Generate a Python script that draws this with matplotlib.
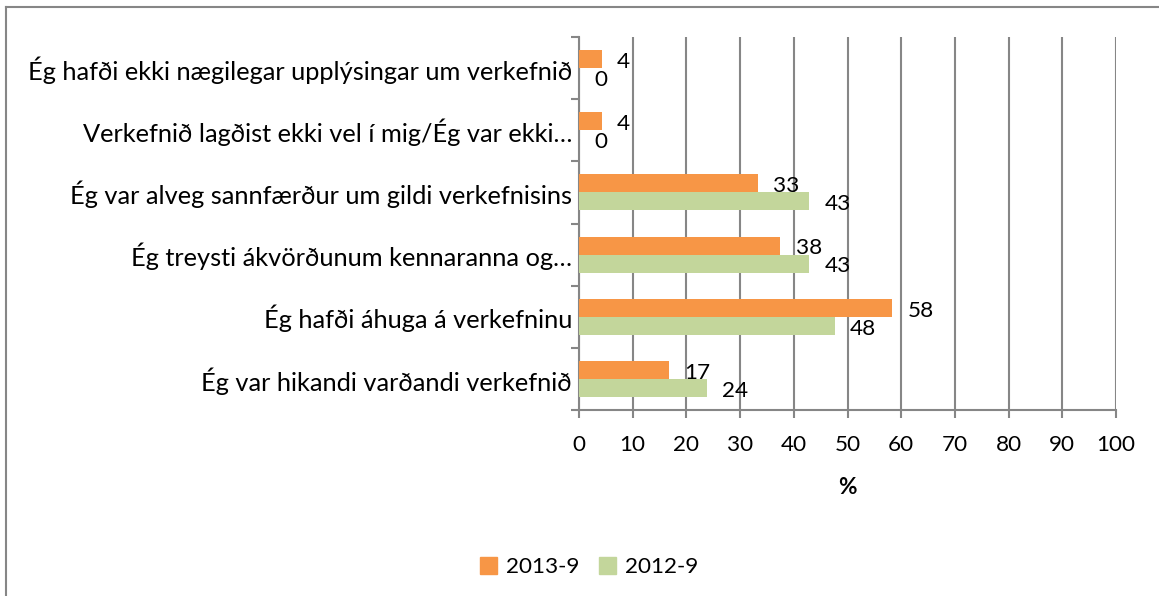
import matplotlib
matplotlib.use('Agg')
import matplotlib.pyplot as plt
from matplotlib.lines import Line2D
from matplotlib.patches import Patch
import numpy as np

plt.rcParams['font.family'] = ['Lato', 'DejaVu Sans']

categories = [
    "Ég hafði ekki nægilegar upplýsingar um verkefnið",
    "Verkefnið lagðist ekki vel í mig/Ég var ekki…",
    "Ég var alveg sannfærður um gildi verkefnisins",
    "Ég treysti ákvörðunum kennaranna og…",
    "Ég hafði áhuga á verkefninu",
    "Ég var hikandi varðandi verkefnið",
]
s2013 = [4.2, 4.2, 33.3, 37.5, 58.3, 16.7]
s2012 = [0.0, 0.0, 42.9, 42.9, 47.6, 23.8]
series_names = ["2013-9", "2012-9"]
x_ticks = [0, 10, 20, 30, 40, 50, 60, 70, 80, 90, 100]

orange = '#F79646'
green = '#C3D69B'
gray = '#868686'
fs_cat = 18.3   # category labels
fs_num = 16.2   # numbers and legend

fig = plt.figure(figsize=(11.59, 5.96), dpi=100)
ax = fig.add_axes([579/1159, 186/596, 537/1159, 373/596])

y = np.arange(len(categories))
h = 0.29
b1 = ax.barh(y - h/2, s2013, height=h, color=orange, zorder=3)
b2 = ax.barh(y + h/2, s2012, height=h, color=green, zorder=3)

for bars, vals in [(b1, s2013), (b2, s2012)]:
    for bar, v in zip(bars, vals):
        ax.annotate(f"{v:.0f}", (v, bar.get_y() + bar.get_height()/2),
                    xytext=(11, -2), textcoords='offset points',
                    va='center', ha='left', fontsize=fs_num, zorder=4)

ax.set_xlim(0, 100)
ax.set_ylim(len(categories) - 0.5, -0.5)
ax.set_xticks(x_ticks)
ax.set_xticklabels([str(t) for t in x_ticks], fontsize=fs_num)
ax.set_yticks(y)
ax.set_yticklabels(categories, fontsize=fs_cat)
ax.set_yticks(np.arange(-0.5, len(categories)), minor=True)
ax.tick_params(axis='y', which='major', length=0, pad=5)
ax.tick_params(axis='y', which='minor', length=6, color=gray, width=1.5)
ax.tick_params(axis='x', length=6, color=gray, width=1.5, pad=12)
ax.set_xlabel('%', fontsize=fs_num, fontweight='bold', labelpad=16)

ax.grid(axis='x', color=gray, linewidth=1.5, zorder=0)
for s in ['top', 'right']:
    ax.spines[s].set_visible(False)
for s in ['left', 'bottom']:
    ax.spines[s].set_color(gray)
    ax.spines[s].set_linewidth(1.5)

handles = [Patch(color=orange), Patch(color=green)]
fig.legend(handles, series_names, loc='center', bbox_to_anchor=(589/1159, 29/596),
           ncol=2, frameon=False, fontsize=fs_num, handlelength=0.75, handleheight=0.8,
           handletextpad=0.4, columnspacing=0.9)

# outer border (top and left only visible)
fig.add_artist(Line2D([6/1159, 1], [1 - 7/596, 1 - 7/596], color=gray, linewidth=1.5,
                      transform=fig.transFigure))
fig.add_artist(Line2D([6/1159, 6/1159], [0, 1 - 7/596], color=gray, linewidth=1.5,
                      transform=fig.transFigure))

fig.savefig('out.png', dpi=100)
